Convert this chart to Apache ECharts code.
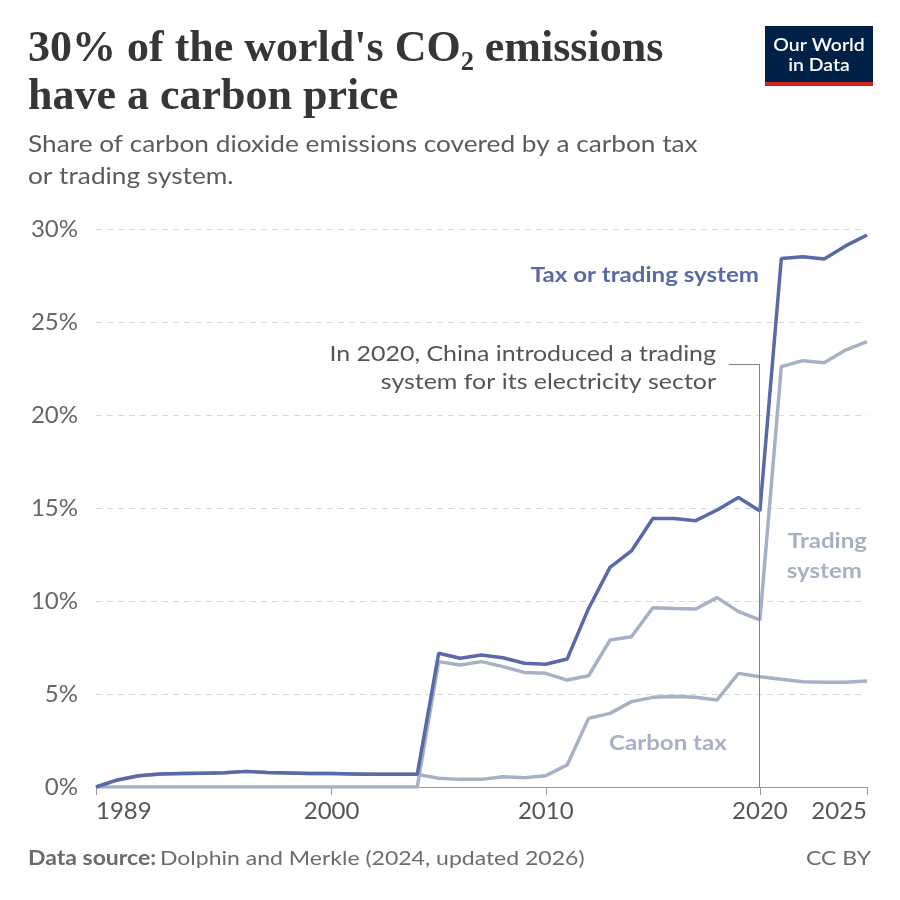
<!DOCTYPE html>
<html>
<head>
<meta charset="utf-8">
<title>Carbon price coverage</title>
<script src="https://cdn.jsdelivr.net/npm/echarts@6/dist/echarts.min.js"></script>
<style>
  html, body { margin: 0; padding: 0; background: #fff; }
  #chart { width: 900px; height: 900px; }
</style>
</head>
<body>
<div id="chart"></div>
<script>
// data (% of world CO2 emissions)
const years = [1989, 1990, 1991, 1992, 1993, 1994, 1995, 1996, 1997, 1998, 1999,
    2000, 2001, 2002, 2003, 2004, 2005, 2006, 2007, 2008, 2009, 2010, 2011, 2012,
    2013, 2014, 2015, 2016, 2017, 2018, 2019, 2020, 2021, 2022, 2023, 2024, 2025];
const taxOrTrading = [0, 0.38, 0.6, 0.7, 0.72, 0.74, 0.76, 0.84, 0.78, 0.75, 0.72,
    0.72, 0.7, 0.68, 0.68, 0.68, 7.19, 6.92, 7.1, 6.95, 6.65, 6.6, 6.88, 9.6,
    11.81, 12.69, 14.44, 14.44, 14.32, 14.89, 15.57, 14.84, 28.42, 28.51, 28.39, 29.09, 29.68];
const trading = [0, 0, 0, 0, 0, 0, 0, 0, 0, 0, 0,
    0, 0, 0, 0, 0, 6.74, 6.56, 6.74, 6.47, 6.16, 6.11, 5.75, 5.98,
    7.9, 8.08, 9.64, 9.6, 9.57, 10.18, 9.43, 8.98, 22.6, 22.92, 22.81, 23.49, 23.94];
const carbonTax = [0, 0.38, 0.6, 0.7, 0.72, 0.74, 0.76, 0.84, 0.78, 0.75, 0.72,
    0.72, 0.7, 0.68, 0.68, 0.68, 0.47, 0.41, 0.41, 0.55, 0.5, 0.61, 1.18, 3.69,
    3.96, 4.59, 4.82, 4.86, 4.82, 4.68, 6.11, 5.93, 5.79, 5.66, 5.63, 5.63, 5.7];
const xTicks = [1989, 2000, 2010, 2020, 2025];

const BLUE = '#5a69a7';
const GREY = '#a6b1c6';
const FONT = 'Lato, "Noto Sans", sans-serif';
const SERIF = '"Liberation Serif", "DejaVu Serif", serif';
const WIDE = 1.14; // the reference text is a bit stretched sideways

const pairs = vals => years.map((y, i) => [y, vals[i]]);

// text helper: anchor at (x, y), stretched horizontally around that anchor
const txt = (x, y, text, font, fill, align, extra) => Object.assign({
    type: 'text', x: x, y: y, scaleX: WIDE,
    style: { x: 0, y: 0, text: text, font: font, fill: fill, textAlign: align || 'left', textVerticalAlign: 'middle' }
}, extra || {});

const chart = echarts.init(document.getElementById('chart'));

const option = {
    backgroundColor: '#fff',
    animation: false,
    grid: { left: 96, right: 33, top: 229, bottom: 113, containLabel: false },
    xAxis: {
        type: 'value',
        min: 1989,
        max: 2025,
        axisLine: { show: true, lineStyle: { color: '#9a9a9a', width: 1 } },
        axisTick: { show: true, customValues: xTicks, length: 8, lineStyle: { color: '#9a9a9a' } },
        axisLabel: {
            customValues: xTicks,
            margin: 12,
            color: '#555',
            fontFamily: FONT,
            fontSize: 24,
            alignMinLabel: 'left',
            alignMaxLabel: 'right',
            formatter: v => String(v)
        },
        splitLine: { show: false }
    },
    yAxis: {
        type: 'value',
        min: 0,
        max: 30,
        interval: 5,
        axisLine: { show: false },
        axisTick: { show: false },
        axisLabel: { formatter: '{value}%', color: '#666', fontFamily: FONT, fontSize: 24, margin: 18 },
        splitLine: { lineStyle: { color: '#d9d9d9', type: [6, 5], width: 1 } }
    },
    series: [
        {
            name: 'Trading system', type: 'line', data: pairs(trading),
            showSymbol: false, lineStyle: { color: GREY, width: 3.5 }, z: 2
        },
        {
            name: 'Carbon tax', type: 'line', data: pairs(carbonTax),
            showSymbol: false, lineStyle: { color: GREY, width: 3.5 }, z: 2
        },
        {
            name: 'Tax or trading system', type: 'line', data: pairs(taxOrTrading),
            showSymbol: false, lineStyle: { color: BLUE, width: 3.5 }, z: 3,
            markLine: {
                silent: true,
                symbol: 'none',
                label: { show: false },
                lineStyle: { color: '#808080', width: 1, type: 'solid' },
                data: [
                    [{ coord: [2018.55, 22.75] }, { coord: [2019.95, 22.75] }],
                    [{ coord: [2019.95, 22.75] }, { coord: [2019.95, 0] }]
                ]
            }
        }
    ],
    graphic: [
        // title
        { type: 'text', left: 28, top: 28, style: { text: "30% of the world's CO\u2082 emissions", font: '600 44px ' + SERIF, fill: '#363636' } },
        { type: 'text', left: 28, top: 76, style: { text: 'have a carbon price', font: '600 44px ' + SERIF, fill: '#363636' } },
        // subtitle
        txt(28, 145, 'Share of carbon dioxide emissions covered by a carbon tax', '23px ' + FONT, '#5b5b5b'),
        txt(28, 177, 'or trading system.', '23px ' + FONT, '#5b5b5b'),
        // logo
        { type: 'rect', shape: { x: 765, y: 26, width: 108, height: 60 }, style: { fill: '#002147' } },
        { type: 'rect', shape: { x: 765, y: 82, width: 108, height: 4 }, style: { fill: '#ce261e' } },
        txt(819, 45, 'Our World', '600 18px ' + FONT, '#fff', 'center', { scaleX: 1.08 }),
        txt(819, 65, 'in Data', '600 18px ' + FONT, '#fff', 'center', { scaleX: 1.08 }),
        // line labels
        txt(759, 275, 'Tax or trading system', 'bold 21.5px ' + FONT, BLUE, 'right', { scaleX: 1.12 }),
        txt(867, 541, 'Trading', 'bold 21.5px ' + FONT, GREY, 'right', { scaleX: 1.12 }),
        txt(862, 571, 'system', 'bold 21.5px ' + FONT, GREY, 'right', { scaleX: 1.12 }),
        txt(609, 743, 'Carbon tax', 'bold 21.5px ' + FONT, GREY, 'left', { scaleX: 1.12 }),
        // annotation
        txt(716, 354, 'In 2020, China introduced a trading', '21.5px ' + FONT, '#555', 'right', { scaleX: 1.16 }),
        txt(716, 382, 'system for its electricity sector', '21.5px ' + FONT, '#555', 'right', { scaleX: 1.16 }),
        // footer
        {
            type: 'text', x: 28, y: 859, scaleX: 1.15, style: {
                x: 0, y: 0, textVerticalAlign: 'middle',
                text: '{b|Data source:} {r|Dolphin and Merkle (2024, updated 2026)}',
                rich: {
                    b: { fontFamily: FONT, fontSize: 20, fontWeight: 'bold', fill: '#6b6b6b' },
                    r: { fontFamily: FONT, fontSize: 20, fill: '#6b6b6b' }
                }
            }
        },
        txt(871, 859, 'CC BY', '20px ' + FONT, '#6b6b6b', 'right', { scaleX: 1.15 })
    ]
};

chart.setOption(option);
</script>
</body>
</html>
